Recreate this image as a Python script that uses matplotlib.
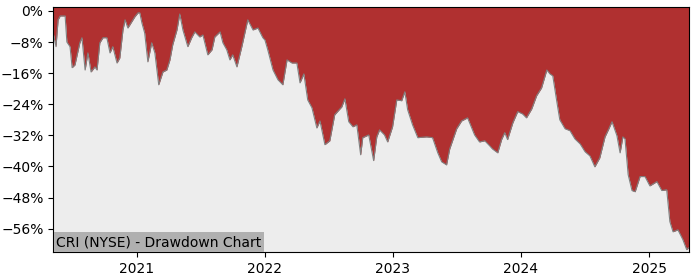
import matplotlib
matplotlib.use('Agg')
import matplotlib.pyplot as plt
import matplotlib.dates as mdates
from matplotlib.ticker import FuncFormatter, MultipleLocator
import pandas as pd

TITLE = 'CRI (NYSE) - Drawdown Chart'

dates = [
    '2020-05-07', '2020-05-15', '2020-05-21', '2020-05-27', '2020-06-10', '2020-06-15',
    '2020-06-24', '2020-06-30', '2020-07-08', '2020-07-22', '2020-07-28', '2020-08-06',
    '2020-08-14', '2020-08-23', '2020-09-03', '2020-09-09', '2020-09-17', '2020-09-26',
    '2020-10-07', '2020-10-16', '2020-10-24', '2020-11-05', '2020-11-13', '2020-11-22',
    '2020-11-28', '2020-12-06', '2020-12-17', '2020-12-26', '2021-01-04', '2021-01-09',
    '2021-01-15', '2021-01-23', '2021-02-01', '2021-02-12', '2021-02-21', '2021-03-04',
    '2021-03-16', '2021-03-27', '2021-04-05', '2021-04-13', '2021-04-25', '2021-05-03',
    '2021-05-12', '2021-05-26', '2021-06-06', '2021-06-15', '2021-06-29', '2021-07-08',
    '2021-07-22', '2021-08-03', '2021-08-11', '2021-08-26', '2021-09-03', '2021-09-14',
    '2021-09-23', '2021-10-01', '2021-10-13', '2021-10-27', '2021-11-13', '2021-11-28',
    '2021-12-12', '2021-12-26', '2022-01-01', '2022-01-09', '2022-01-24', '2022-02-07',
    '2022-02-21', '2022-03-05', '2022-03-19', '2022-04-02', '2022-04-11', '2022-04-22',
    '2022-05-03', '2022-05-15', '2022-05-29', '2022-06-07', '2022-06-21', '2022-07-05',
    '2022-07-19', '2022-08-08', '2022-08-17', '2022-08-28', '2022-09-09', '2022-09-20',
    '2022-10-01', '2022-10-07', '2022-10-24', '2022-11-07', '2022-11-16', '2022-11-24',
    '2022-12-08', '2022-12-17', '2022-12-31', '2023-01-12', '2023-01-26', '2023-02-04',
    '2023-02-12', '2023-02-26', '2023-03-13', '2023-04-07', '2023-04-24', '2023-05-09',
    '2023-05-20', '2023-06-03', '2023-06-12', '2023-07-02', '2023-07-16', '2023-08-02',
    '2023-08-22', '2023-09-05', '2023-09-20', '2023-10-04', '2023-10-12', '2023-10-27',
    '2023-11-07', '2023-11-16', '2023-11-24', '2023-12-09', '2023-12-23', '2024-01-06',
    '2024-01-17', '2024-02-01', '2024-02-15', '2024-02-29', '2024-03-15', '2024-03-24',
    '2024-04-01', '2024-04-13', '2024-04-21', '2024-05-06', '2024-05-20', '2024-06-03',
    '2024-06-18', '2024-07-02', '2024-07-16', '2024-07-30', '2024-08-13', '2024-08-28',
    '2024-09-08', '2024-09-17', '2024-10-01', '2024-10-10', '2024-10-18', '2024-10-24',
    '2024-11-02', '2024-11-13', '2024-11-22', '2024-12-06', '2024-12-20', '2025-01-03',
    '2025-01-23', '2025-02-06', '2025-02-20', '2025-03-01', '2025-03-10', '2025-03-24',
    '2025-04-07', '2025-04-18', '2025-04-24',
]
drawdown = [
    -5.7, -9.2, -2.3, -1.3, -1.3, -8.0,
    -9.2, -14.6, -13.9, -8.2, -6.9, -15.2,
    -10.8, -15.7, -14.4, -15.2, -8.2, -6.9,
    -6.9, -10.8, -9.2, -13.4, -12.1, -4.9,
    -2.3, -4.4, -2.8, -1.5, -0.5, -0.5,
    -3.1, -5.7, -13.1, -8.2, -10.8, -19.0,
    -15.7, -15.2, -12.6, -8.7, -4.9, -0.8,
    -4.9, -9.2, -6.9, -5.4, -6.7, -6.2,
    -11.3, -10.0, -6.7, -5.4, -8.2, -10.0,
    -12.6, -11.3, -14.4, -9.2, -2.3, -4.9,
    -4.4, -6.9, -7.5, -10.0, -15.2, -17.7,
    -19.0, -12.6, -13.4, -13.4, -18.5, -16.2,
    -22.9, -24.9, -30.1, -28.3, -34.4, -33.4,
    -26.7, -24.7, -22.6, -28.5, -29.8, -29.3,
    -37.0, -32.6, -31.9, -38.5, -32.4, -30.6,
    -31.9, -33.7, -29.8, -22.9, -23.1, -20.8,
    -25.4, -29.3, -32.6, -32.4, -32.6, -36.5,
    -38.8, -39.6, -35.5, -30.3, -28.3, -27.5,
    -31.9, -33.7, -33.4, -34.7, -35.5, -36.5,
    -33.1, -31.3, -33.1, -28.8, -25.9, -26.5,
    -27.5, -25.2, -21.8, -19.8, -15.2, -16.2,
    -16.7, -23.6, -28.0, -30.3, -30.8, -32.9,
    -34.2, -36.2, -37.3, -40.1, -37.8, -32.4,
    -30.3, -28.5, -32.1, -36.5, -32.4, -32.9,
    -42.1, -46.2, -46.5, -42.6, -42.6, -45.0,
    -43.9, -46.2, -46.0, -54.2, -56.8, -56.3,
    -58.8, -61.4, -60.9,
]

x = pd.to_datetime(dates)
ymin, ymax = -62, 1.0

fig = plt.figure(figsize=(7, 2.8), dpi=100)
ax = fig.add_axes([0.076, 0.1, 0.908, 0.875])
ax.set_facecolor('#ededed')
ax.fill_between(x, drawdown, ymax, color='#b03030', linewidth=0)
ax.plot(x, drawdown, color='#808080', linewidth=0.8)

ax.set_xlim(x[0], x[-1])
ax.set_ylim(ymin, ymax)
ax.yaxis.set_major_locator(MultipleLocator(8))
ax.yaxis.set_major_formatter(FuncFormatter(
    lambda v, p: f'{v:.0f}%'.replace('-', '\u2212') if round(v) != 0 else '0%'))
ax.xaxis.set_major_locator(mdates.YearLocator())
ax.xaxis.set_major_formatter(mdates.DateFormatter('%Y'))
ax.tick_params(labelsize=10)

ax.text(0.005, 0.012, TITLE, transform=ax.transAxes, fontsize=10, va='bottom', ha='left',
        bbox=dict(boxstyle='square,pad=0.2', facecolor='#b0b0b0', edgecolor='none'))

plt.savefig('out.png', dpi=100)
